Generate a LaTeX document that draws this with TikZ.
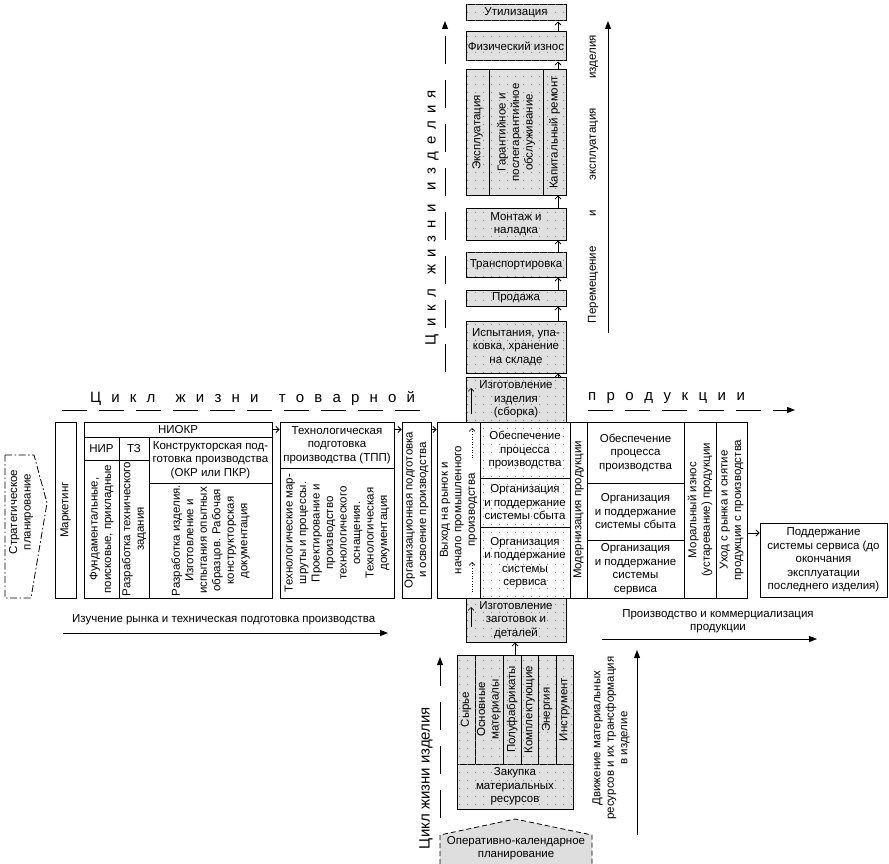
\documentclass[tikz,border=0pt]{standalone}
\usepackage{fontspec}
\setmainfont{Liberation Sans}
\usetikzlibrary{arrows.meta,patterns}
\definecolor{cellgray}{gray}{0.88}
\definecolor{dotgray}{gray}{0.45}
\definecolor{plangray}{gray}{0.87}
\newcommand\mainsize{\fontsize{11.5}{13.5}\selectfont}
\newcommand\headsize{\fontsize{15}{17}\selectfont}
\pgfdeclarepatternformonly{sparsedots}{\pgfpointorigin}{\pgfqpoint{8pt}{8pt}}{\pgfqpoint{8pt}{8pt}}{\pgfpathcircle{\pgfqpoint{4pt}{4pt}}{0.6pt}\pgfusepath{fill}}
\tikzset{
  box/.style={draw, line width=1pt, inner sep=1pt, align=center, font=\mainsize},
  shaded/.style={fill=cellgray, postaction={pattern=sparsedots, pattern color=dotgray}},
  dotty/.style={postaction={pattern=sparsedots, pattern color=dotgray}},
  note/.style={font=\mainsize, align=center, inner sep=0pt},
  link/.style={line width=.8pt, -{Straight Barb[length=3pt,width=6pt]}},
  axis/.style={line width=1pt, -{Triangle[length=8pt,width=6pt]}},
  dashaxis/.style={axis, dash pattern=on 25pt off 12pt},
}
\begin{document}
\begin{tikzpicture}[x=1pt, y=-1pt]
\useasboundingbox (0,0) rectangle (889,864);

% strategic planning
\draw[line width=.8pt, dash pattern=on 7pt off 2.5pt on 1.5pt off 2.5pt] (5,455) -- (34,455) -- (47,503) -- (31,598) -- (5,598) -- cycle;
\node[note, rotate=90] (strat) at (21,512) {Стратегическое\\планирование};

% market study and preparation of production
\node[box, rotate=90, minimum width=176pt, minimum height=21pt] (mark) at (65.5,510) {Маркетинг};
\node[box, minimum width=188pt, minimum height=15pt] (niokr) at (178,429.5) {НИОКР};
\node[box, minimum width=35pt, minimum height=23pt] (nir) at (101.5,448.5) {НИР};
\node[box, minimum width=30pt, minimum height=23pt] (tz) at (134,448.5) {ТЗ};
\node[box, minimum width=123pt, minimum height=46pt] (okr) at (210.5,460) {Конструкторская под-\\готовка производства\\(ОКР или ПКР)};
\node[box, rotate=90, minimum width=138pt, minimum height=35pt] (fund) at (101.5,529) {Фундаментальные,\\поисковые, прикладные};
\node[box, rotate=90, minimum width=138pt, minimum height=30pt] (spec) at (134,529) {Разработка технического\\задания};
\node[box, rotate=90, minimum width=115pt, minimum height=123pt] (design) at (210.5,540.5) {Разработка изделия.\\Изготовление и\\испытания опытных\\образцов. Рабочая\\конструкторская\\документация};
\node[box, minimum width=114pt, minimum height=46pt] (tpp) at (337,445) {Технологическая\\подготовка\\производства (ТПП)};
\node[box, rotate=90, minimum width=130pt, minimum height=114pt] (tech) at (337,533) {Технологические мар-\\шруты и процессы.\\Проектирование и\\производство\\технологического\\оснащения.\\Технологическая\\документация};
\node[box, rotate=90, minimum width=176pt, minimum height=29pt] (org) at (416.5,510) {Организационная подготовка\\и освоение производства};

% production and commercialisation
\node[box, rotate=90, minimum width=176pt, minimum height=43pt] (exit) at (458.5,510) {Выход на рынок и\\начало промышленного\\производства};
\node[box, dotty, minimum width=90pt, minimum height=56pt] (prov) at (525,450) {Обеспечение\\процесса\\производства};
\node[box, dotty, minimum width=90pt, minimum height=49pt] (sales) at (525,502.5) {Организация\\и поддержание\\системы сбыта};
\node[box, dotty, minimum width=90pt, minimum height=71pt] (serv) at (525,562.5) {Организация\\и поддержание\\системы\\сервиса};
\node[box, rotate=90, minimum width=176pt, minimum height=17pt] (modern) at (578.5,510) {Модернизация продукции};
\node[box, minimum width=97pt, minimum height=61pt] (prov2) at (635.5,452.5) {Обеспечение\\процесса\\производства};
\node[box, minimum width=97pt, minimum height=57pt] (sales2) at (635.5,511.5) {Организация\\и поддержание\\системы сбыта};
\node[box, minimum width=97pt, minimum height=58pt] (serv2) at (635.5,569) {Организация\\и поддержание\\системы\\сервиса};
\node[box, rotate=90, minimum width=176pt, minimum height=32pt] (moral) at (700,510) {Моральный износ\\(устаревание) продукции};
\node[box, rotate=90, minimum width=176pt, minimum height=31pt] (leave) at (731.5,510) {Уход с рынка и снятие\\продукции с производства};
\node[box, minimum width=127pt, minimum height=74pt] (support) at (823.5,560) {Поддержание\\системы сервиса (до\\окончания\\эксплуатации\\последнего изделия)};

% life of the product, upwards
\node[box, shaded, minimum width=100pt, minimum height=45pt] (assembly) at (516,399.5) {Изготовление\\изделия\\(сборка)};
\node[box, shaded, minimum width=100pt, minimum height=52pt] (test) at (516,347) {Испытания, упа-\\ковка, хранение\\на складе};
\node[box, shaded, minimum width=100pt, minimum height=16pt] (sale) at (516,298) {Продажа};
\node[box, shaded, minimum width=100pt, minimum height=25pt] (transport) at (516,264.5) {Транспортировка};
\node[box, shaded, minimum width=100pt, minimum height=32pt] (mount) at (516,224) {Монтаж и\\наладка};
\node[box, shaded, rotate=90, minimum width=125pt, minimum height=23pt] (expl) at (477.5,132.5) {Эксплуатация};
\node[box, shaded, rotate=90, minimum width=125pt, minimum height=54pt] (warranty) at (516,132.5) {Гарантийное и\\послегарантийное\\обслуживание};
\node[box, shaded, rotate=90, minimum width=125pt, minimum height=23pt] (repair) at (554.5,132.5) {Капитальный ремонт};
\node[box, shaded, minimum width=100pt, minimum height=29pt] (wear) at (516,46.5) {Физический износ};
\node[box, shaded, minimum width=100pt, minimum height=16pt] (util) at (516,13) {Утилизация};

% life of the product, downwards
\node[box, shaded, minimum width=100pt, minimum height=44pt] (blanks) at (516,620) {Изготовление\\заготовок и\\деталей};
\node[box, shaded, rotate=90, minimum width=109pt, minimum height=18pt] (raw) at (466,709.5) {Сырье};
\node[box, shaded, rotate=90, minimum width=109pt, minimum height=28pt] (basic) at (489,709.5) {Основные\\материалы};
\node[box, shaded, rotate=90, minimum width=109pt, minimum height=18pt] (semi) at (512,709.5) {Полуфабрикаты};
\node[box, shaded, rotate=90, minimum width=109pt, minimum height=17pt] (comp) at (529.5,709.5) {Комплектующие};
\node[box, shaded, rotate=90, minimum width=109pt, minimum height=18pt] (energy) at (547,709.5) {Энергия};
\node[box, shaded, rotate=90, minimum width=109pt, minimum height=17pt] (tool) at (564.5,709.5) {Инструмент};
\node[box, shaded, minimum width=116pt, minimum height=45pt] (purchase) at (515,786.5) {Закупка\\материальных\\ресурсов};

% operational planning
\draw[line width=.8pt, dash pattern=on 5pt off 3pt, fill=plangray] (440,864) -- (440,835) -- (515,819) -- (592,835) -- (592,864);
\node[note] (plan) at (516,848) {Оперативно-календарное\\планирование};

% captions
\node[note, anchor=west] (study) at (72,620) {Изучение рынка и техническая подготовка производства};
\node[note] (commerce) at (718,621) {Производство и коммерциализация\\продукции};
\node[note, rotate=90] (flow) at (611,738) {Движение материальных\\ресурсов и их трансформация\\в изделие};
\node[note, rotate=90] (move) at (593,179) {\parbox{288pt}{Перемещение\hfill и\hfill эксплуатация\hfill изделия}};
\node[note, font=\headsize, rotate=90] (lifedown) at (426,778) {Цикл жизни изделия};
\node[note, font=\headsize, rotate=90] (lifeup) at (432,217.5) {\parbox{255pt}{Ц\hfill и\hfill к\hfill л\hfill\hfill ж\hfill и\hfill з\hfill н\hfill и\hfill\hfill и\hfill з\hfill д\hfill е\hfill л\hfill и\hfill я}};
\node[note, font=\headsize] (cycleleft) at (252.5,398) {\parbox{325pt}{Ц\hfill и\hfill к\hfill л\hfill\hfill ж\hfill и\hfill з\hfill н\hfill и\hfill\hfill т\hfill о\hfill в\hfill а\hfill р\hfill н\hfill о\hfill й}};
\node[note, font=\headsize] (cycleright) at (666.5,398) {\parbox{157pt}{п\hfill р\hfill о\hfill д\hfill у\hfill к\hfill ц\hfill и\hfill и}};

% axes
\coordinate (hl0) at (62,410); \coordinate (hl1) at (428,410);
\coordinate (hr0) at (588,410); \coordinate (hr1) at (795,410);
\coordinate (vu0) at (445,372); \coordinate (vu1) at (445,21);
\coordinate (vd0) at (440,818); \coordinate (vd1) at (440,657);
\draw[line width=1pt, dash pattern=on 25pt off 12pt] (hl0) -- (hl1);
\draw[dashaxis] (hr0) -- (hr1);
\draw[axis, dash pattern=on 28pt off 16pt] (vu0) -- (vu1);
\draw[axis, dash pattern=on 28pt off 16pt] (vd0) -- (vd1);
\coordinate (sl0) at (63,633); \coordinate (sl1) at (388,633);
\coordinate (sr0) at (602,639); \coordinate (sr1) at (817,639);
\coordinate (mu0) at (608,333); \coordinate (mu1) at (608,21);
\coordinate (md0) at (637,835); \coordinate (md1) at (637,650);
\draw[axis] (sl0) -- (sl1);
\draw[axis] (sr0) -- (sr1);
\draw[axis] (mu0) -- (mu1);
\draw[axis] (md0) -- (md1);

% connectors
\draw[link] (niokr.east) -- (niokr.east -| tpp.west);
\draw[link] (tpp.east |- niokr.east) -- (org.north |- niokr.east);
\draw[link] (org.south |- niokr.east) -- (exit.north |- niokr.east);
\coordinate (supin) at (760,533);
\draw[link] (leave.south |- supin) -- (support.west |- supin);
\coordinate (rail) at (558,0);
\draw[link] (rail |- assembly.north) -- (rail |- test.south);
\draw[link] (rail |- test.north) -- (rail |- sale.south);
\draw[link] (rail |- sale.north) -- (rail |- transport.south);
\draw[link] (rail |- transport.north) -- (rail |- mount.south);
\draw[link] (rail |- mount.north) -- (rail |- repair.west);
\draw[link] (rail |- repair.east) -- (rail |- wear.south);
\draw[link] (rail |- wear.north) -- (rail |- util.south);
\draw[link] (purchase.north |- semi.east) -- (purchase.north |- blanks.south);
\draw[link, line width=.6pt] (471,414) -- (471,388);
\draw[link, line width=.6pt] (471,627) -- (471,607);
\draw[link, line width=.6pt, dotted] (472,592) -- (472,562);
\draw[link, line width=.6pt, dotted] (472,458) -- (472,428);
\end{tikzpicture}
\end{document}
